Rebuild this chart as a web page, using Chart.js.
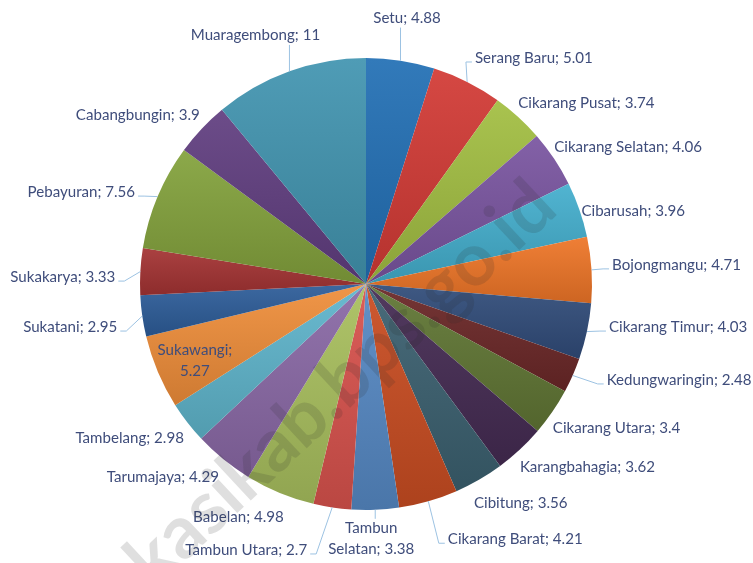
<!DOCTYPE html>
<html>
<head>
<meta charset="utf-8">
<script src="https://cdn.jsdelivr.net/npm/chart.js@4"></script>
<style>
  html, body { margin: 0; padding: 0; background: #fff; }
</style>
</head>
<body>
<canvas id="pie" width="753" height="563"></canvas>
<script>
// districts in drawing order, clockwise from 12 o'clock
const districts = [
  'Setu', 'Serang Baru', 'Cikarang Pusat', 'Cikarang Selatan', 'Cibarusah',
  'Bojongmangu', 'Cikarang Timur', 'Kedungwaringin', 'Cikarang Utara', 'Karangbahagia',
  'Cibitung', 'Cikarang Barat', 'Tambun Selatan', 'Tambun Utara', 'Babelan',
  'Tarumajaya', 'Tambelang', 'Sukawangi', 'Sukatani', 'Sukakarya',
  'Pebayuran', 'Cabangbungin', 'Muaragembong'
];
const shares = [
  4.88, 5.01, 3.74, 4.06, 3.96,
  4.71, 4.03, 2.48, 3.4, 3.62,
  3.56, 4.21, 3.38, 2.7, 4.98,
  4.29, 2.98, 5.27, 2.95, 3.33,
  7.56, 3.9, 11
];

const sliceColors = [
  '#2370B5', '#D23A35', '#A2BE42', '#7A55A0', '#44AECD',
  '#EE7527', '#314C7A', '#6B2727', '#607634', '#452B53',
  '#3B6070', '#C94D22', '#5689C4', '#D8524D', '#A9C05E',
  '#8A69A6', '#5FB5CC', '#EF8E3A', '#2D5D99', '#A43333',
  '#83A23C', '#613E80', '#4295B0'
];

// label offset from the slice's outer mid point: [dx, dy, align, leader line, two lines]
const labelPlacement = [
  [6.5, -42.6, 'center', true, false],
  [7.8, -23.9, 'left', true, false],
  [0, -14, 'left', false, false],
  [0, -12, 'left', false, false],
  [2, 1, 'left', false, false],
  [20.5, -5, 'left', true, false],
  [22, -4.5, 'left', true, false],
  [34, 4.5, 'left', true, false],
  [0.5, 16, 'left', false, false],
  [0, 17.5, 'left', false, false],
  [-5, 23, 'left', false, false],
  [19.5, 38, 'left', true, false],
  [-4, 29, 'center', true, true],
  [-25, 42.5, 'right', true, false],
  [4, 24, 'right', false, false],
  [-4.5, 18, 'right', false, false],
  [-3.5, 16, 'right', false, false],
  [37, -11.5, 'center', false, true],
  [-25, 11, 'right', true, false],
  [-25, 5.5, 'right', true, false],
  [-22.5, -4.5, 'right', true, false],
  [-2, -14, 'right', false, false],
  [-34, -36, 'center', true, false]
];

const textColor = '#3F4D7B';
const leaderColor = '#9CC2E2';
const lineH = 21;

// fit the label font to the width of the original labels
const measure = document.createElement('canvas').getContext('2d');
measure.font = '15px Lato';
const labelSize = 15 * 148 / measure.measureText('Cikarang Selatan; 4.06').width;
measure.font = 'bold 50px Lato';
const wmSize = 50 * 555 / measure.measureText('kasikab.bps.go.id').width;

function shade(hex, f) {
  const n = parseInt(hex.slice(1), 16);
  const t = f < 0 ? 0 : 255, p = Math.abs(f);
  const ch = [n >> 16, (n >> 8) & 255, n & 255].map(v => Math.round(v + (t - v) * p));
  return `rgb(${ch[0]},${ch[1]},${ch[2]})`;
}

// vertical light-to-dark gradient over each slice's own bounding box
function sliceFill(c) {
  const base = sliceColors[c.dataIndex];
  const area = c.chart.chartArea;
  if (!area) return base;
  const cx = (area.left + area.right) / 2, cy = (area.top + area.bottom) / 2;
  const r = Math.min(area.right - area.left, area.bottom - area.top) / 2;
  const total = shares.reduce((a, b) => a + b, 0);
  const before = shares.slice(0, c.dataIndex).reduce((a, b) => a + b, 0);
  const a0 = -Math.PI / 2 + 2 * Math.PI * before / total;
  const a1 = a0 + 2 * Math.PI * shares[c.dataIndex] / total;
  const ys = [cy, cy + r * Math.sin(a0), cy + r * Math.sin(a1)];
  [Math.PI / 2, 3 * Math.PI / 2].forEach(t => { if (t > a0 && t < a1) ys.push(cy + r * Math.sin(t)); });
  const top = Math.min(...ys), bottom = Math.max(...ys);
  if (bottom - top < 1) return base;
  const g = c.chart.ctx.createLinearGradient(0, top, 0, bottom);
  g.addColorStop(0, shade(base, 0.07));
  g.addColorStop(1, shade(base, -0.14));
  return g;
}

const pieLabels = {
  id: 'pieLabels',
  afterDatasetsDraw(chart) {
    const ctx = chart.ctx;
    const arcs = chart.getDatasetMeta(0).data;
    ctx.save();
    ctx.font = `${labelSize}px Lato`;
    ctx.textBaseline = 'middle';
    arcs.forEach((arc, i) => {
      const mid = (arc.startAngle + arc.endAngle) / 2;
      const px = arc.x + arc.outerRadius * Math.cos(mid);
      const py = arc.y + arc.outerRadius * Math.sin(mid);
      const [dx, dy, align, leader, wrap] = labelPlacement[i];
      const text = `${districts[i]}; ${shares[i]}`;
      const cut = text.indexOf(' ');
      const lines = wrap ? [text.slice(0, cut), text.slice(cut + 1)] : [text];
      const x = px + dx, y = py + dy;

      if (leader) {
        ctx.strokeStyle = leaderColor;
        ctx.lineWidth = 1;
        ctx.beginPath();
        if (align === 'center') {
          const half = lines.length * lineH / 2 - 1;
          ctx.moveTo(px, dy < 0 ? y + half : y - half);
          ctx.lineTo(px, py);
        } else {
          const side = align === 'left' ? -1 : 1;
          const ax = x + side * 3, ay = y + 4;
          ctx.moveTo(ax, ay);
          ctx.lineTo(ax + side * 6, ay);
          ctx.lineTo(px, py);
        }
        ctx.stroke();
      }

      ctx.fillStyle = textColor;
      ctx.textAlign = align;
      lines.forEach((ln, k) => ctx.fillText(ln, x, y + (k - (lines.length - 1) / 2) * lineH));
    });
    ctx.restore();
  }
};

const watermark = {
  id: 'watermark',
  afterDraw(chart) {
    const ctx = chart.ctx;
    ctx.save();
    ctx.font = `bold ${wmSize}px Lato`;
    ctx.fillStyle = 'rgba(40,40,40,0.15)';
    ctx.translate(560, 212);
    ctx.rotate(-43 * Math.PI / 180);
    ctx.textAlign = 'right';
    ctx.textBaseline = 'alphabetic';
    ctx.fillText('bekasikab.bps.go.id', 0, 0);
    ctx.restore();
  }
};

new Chart(document.getElementById('pie'), {
  type: 'pie',
  data: {
    labels: districts,
    datasets: [{
      data: shares,
      backgroundColor: sliceFill,
      borderWidth: 0
    }]
  },
  options: {
    responsive: false,
    animation: false,
    events: [],
    layout: { padding: { left: 140, right: 161, top: 58, bottom: 53 } },
    plugins: {
      legend: { display: false },
      tooltip: { enabled: false }
    }
  },
  plugins: [pieLabels, watermark]
});
</script>
</body>
</html>
